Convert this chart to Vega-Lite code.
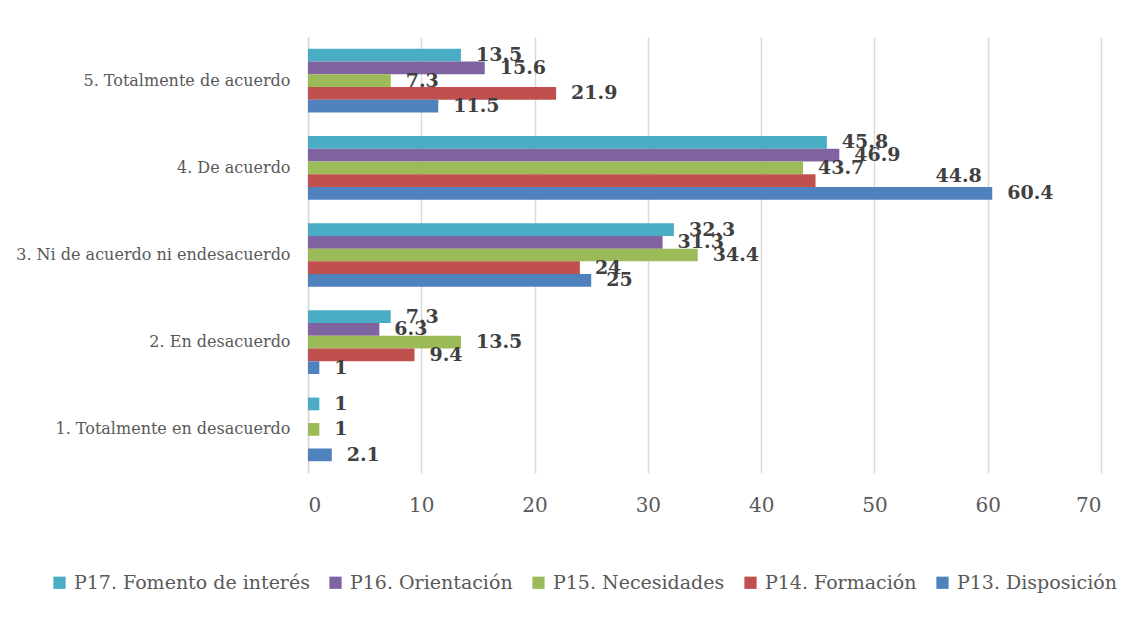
{
  "$schema": "https://vega.github.io/schema/vega-lite/v6.json",
  "autosize": {"type": "none"},
  "width": 793,
  "height": 436,
  "padding": {"left": 308, "top": 37, "right": 34, "bottom": 151},
  "background": "white",
  "config": {
    "view": {"stroke": null},
    "font": "DejaVu Serif"
  },
  "data": {
    "values": [
      {"cat": "5. Totalmente de acuerdo", "serie": "P17. Fomento de interés", "valor": 13.5},
      {"cat": "5. Totalmente de acuerdo", "serie": "P16. Orientación", "valor": 15.6},
      {"cat": "5. Totalmente de acuerdo", "serie": "P15. Necesidades", "valor": 7.3},
      {"cat": "5. Totalmente de acuerdo", "serie": "P14. Formación", "valor": 21.9},
      {"cat": "5. Totalmente de acuerdo", "serie": "P13. Disposición", "valor": 11.5},
      {"cat": "4. De acuerdo", "serie": "P17. Fomento de interés", "valor": 45.8},
      {"cat": "4. De acuerdo", "serie": "P16. Orientación", "valor": 46.9},
      {"cat": "4. De acuerdo", "serie": "P15. Necesidades", "valor": 43.7},
      {"cat": "4. De acuerdo", "serie": "P14. Formación", "valor": 44.8},
      {"cat": "4. De acuerdo", "serie": "P13. Disposición", "valor": 60.4},
      {"cat": "3. Ni de acuerdo ni endesacuerdo", "serie": "P17. Fomento de interés", "valor": 32.3},
      {"cat": "3. Ni de acuerdo ni endesacuerdo", "serie": "P16. Orientación", "valor": 31.3},
      {"cat": "3. Ni de acuerdo ni endesacuerdo", "serie": "P15. Necesidades", "valor": 34.4},
      {"cat": "3. Ni de acuerdo ni endesacuerdo", "serie": "P14. Formación", "valor": 24},
      {"cat": "3. Ni de acuerdo ni endesacuerdo", "serie": "P13. Disposición", "valor": 25},
      {"cat": "2. En desacuerdo", "serie": "P17. Fomento de interés", "valor": 7.3},
      {"cat": "2. En desacuerdo", "serie": "P16. Orientación", "valor": 6.3},
      {"cat": "2. En desacuerdo", "serie": "P15. Necesidades", "valor": 13.5},
      {"cat": "2. En desacuerdo", "serie": "P14. Formación", "valor": 9.4},
      {"cat": "2. En desacuerdo", "serie": "P13. Disposición", "valor": 1},
      {"cat": "1. Totalmente en desacuerdo", "serie": "P17. Fomento de interés", "valor": 1},
      {"cat": "1. Totalmente en desacuerdo", "serie": "P15. Necesidades", "valor": 1},
      {"cat": "1. Totalmente en desacuerdo", "serie": "P13. Disposición", "valor": 2.1}
    ]
  },
  "encoding": {
    "y": {
      "field": "cat", "type": "nominal",
      "scale": {
        "domain": ["5. Totalmente de acuerdo", "4. De acuerdo", "3. Ni de acuerdo ni endesacuerdo", "2. En desacuerdo", "1. Totalmente en desacuerdo"],
        "paddingInner": 0.27, "paddingOuter": 0.135
      },
      "axis": {
        "title": null, "ticks": false, "labelPadding": 18,
        "labelFontSize": 16, "labelColor": "#595959", "labelFont": "DejaVu Serif",
        "domainColor": "#D9D9D9", "domainWidth": 1.5, "labelLimit": 300
      }
    },
    "yOffset": {
      "field": "serie", "type": "nominal",
      "scale": {
        "domain": ["P17. Fomento de interés", "P16. Orientación", "P15. Necesidades", "P14. Formación", "P13. Disposición"],
        "paddingInner": 0, "paddingOuter": 0
      }
    },
    "x": {
      "field": "valor", "type": "quantitative",
      "scale": {"domain": [0, 70], "nice": false},
      "axis": {
        "title": null, "values": [0, 10, 20, 30, 40, 50, 60, 70],
        "ticks": false, "domain": false, "labelPadding": 22,
        "labelFontSize": 20, "labelColor": "#595959", "labelFont": "DejaVu Serif",
        "grid": true, "gridColor": "#D9D9D9", "gridWidth": 1.5
      }
    }
  },
  "layer": [
    {
      "mark": {"type": "bar"},
      "encoding": {
        "color": {
          "field": "serie", "type": "nominal",
          "scale": {
            "domain": ["P17. Fomento de interés", "P16. Orientación", "P15. Necesidades", "P14. Formación", "P13. Disposición"],
            "range": ["#4BACC6", "#8064A2", "#9BBB59", "#C0504D", "#4F81BD"]
          },
          "legend": {
            "title": null, "orient": "none", "direction": "horizontal", "columns": 5,
            "legendX": -258, "legendY": 536,
            "symbolType": "square", "symbolSize": 150, "symbolStrokeWidth": 0,
            "labelFontSize": 19, "labelColor": "#595959", "labelFont": "DejaVu Serif",
            "labelOffset": 5, "columnPadding": 16, "labelLimit": 400
          }
        }
      }
    },
    {
      "transform": [{"filter": "!(datum.cat == '4. De acuerdo' && datum.serie == 'P14. Formación')"}],
      "mark": {"type": "text", "align": "left", "baseline": "middle", "dx": 15, "font": "DejaVu Serif", "fontWeight": "bold", "fontSize": 19, "color": "#404040"},
      "encoding": {
        "text": {"field": "valor", "type": "nominal"}
      }
    },
    {
      "transform": [{"filter": "datum.cat == '4. De acuerdo' && datum.serie == 'P14. Formación'"}],
      "mark": {"type": "text", "align": "left", "baseline": "middle", "dx": 120, "dy": -5, "font": "DejaVu Serif", "fontWeight": "bold", "fontSize": 19, "color": "#404040"},
      "encoding": {
        "text": {"field": "valor", "type": "nominal"}
      }
    }
  ]
}
